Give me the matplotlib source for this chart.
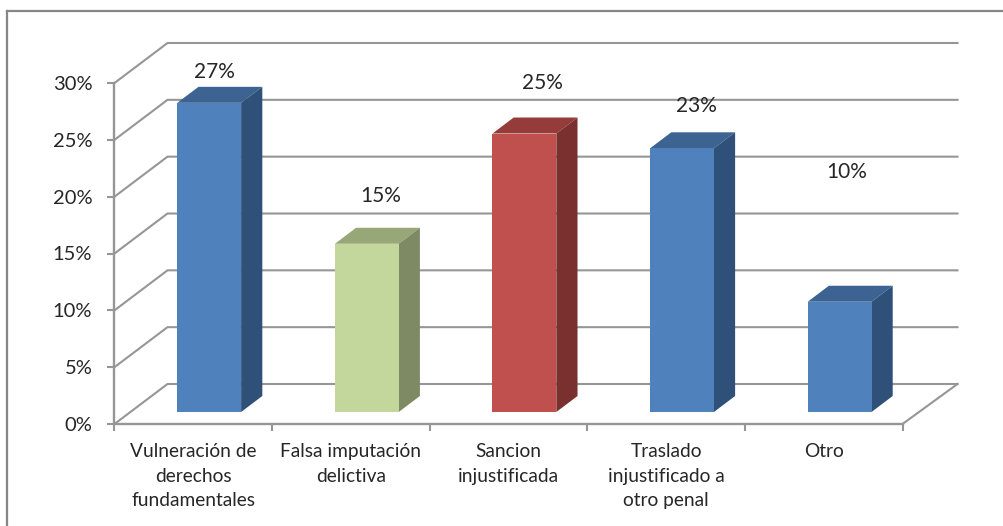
# -*- coding: utf-8 -*-
import numpy as np
import matplotlib
matplotlib.use("Agg")
import matplotlib.pyplot as plt
from matplotlib.lines import Line2D

plt.rcParams["font.family"] = ["Lato", "DejaVu Sans"]

# Datos
categorias = ["Vulneración de\nderechos\nfundamentales", "Falsa imputación\ndelictiva",
              "Sancion\ninjustificada", "Traslado\ninjustificado a\notro penal", "Otro"]
valores = [27.2, 14.8, 24.5, 23.2, 9.7]
etiquetas = ["27%", "15%", "25%", "23%", "10%"]
ticks_y = [0, 5, 10, 15, 20, 25, 30]

# Colores por barra: frente, tapa, lateral
frente = ["#4F81BD", "#C3D69B", "#C0504D", "#4F81BD", "#4F81BD"]
tapa = ["#3C6391", "#98A777", "#953B39", "#3C6391", "#3C6391"]
lateral = ["#2F5179", "#7E8A64", "#7A302E", "#2F5179", "#2F5179"]

# Posicion de las etiquetas (no van pegadas a la barra en el original)
etq_x = [0.634, 1.688, 2.716, 3.693, 4.645]
etq_y = [31.0, 20.05, 30.0, 28.0, 22.2]

GRIS = "#969696"
TEXTO = "#262626"
W, H = 1004, 526
PROF_X = 53 / (788 / 5)    # profundidad en unidades de categoria
PROF_Y = 40 / (341 / 30)   # profundidad en unidades de %
EXTRA_FONDO = 2 / (788 / 5)  # la pared del fondo llega algo mas a la derecha
ANCHO = 0.405

fig = plt.figure(figsize=(W / 100, H / 100), dpi=100)
ax = fig.add_axes([114.5 / W, (H - 424) / H, 788 / W, 341 / H])
n = len(categorias)
ax.set_xlim(0, n)
ax.set_ylim(0, 30)
ax.patch.set_alpha(0)

# Marco exterior (sigue hasta los bordes derecho e inferior)
fig.add_artist(Line2D([7 / W, 7 / W], [0, 1 - 11 / H], color="#868686", lw=1.6))
fig.add_artist(Line2D([7 / W, 1], [1 - 11 / H, 1 - 11 / H], color="#868686", lw=1.6))

# Paredes: diagonal izquierda + linea del fondo por cada tick
for t in ticks_y:
    ax.plot([0, PROF_X, n + PROF_X + EXTRA_FONDO], [t, t + PROF_Y, t + PROF_Y],
            color=GRIS, lw=1.5, clip_on=False, zorder=1)
ax.plot([n, n + PROF_X + EXTRA_FONDO], [0, PROF_Y], color=GRIS, lw=1.5, clip_on=False, zorder=1)

# Barras 3D
x0 = 0.3 * PROF_X
y0 = 0.3 * PROF_Y
dx = 0.4 * PROF_X
dy = 0.4 * PROF_Y
for i, v in enumerate(valores):
    izq = i + 0.5 - ANCHO / 2 + x0
    der = izq + ANCHO
    ax.bar(izq, v, width=ANCHO, bottom=y0, align="edge", color=frente[i], zorder=4, clip_on=False)
    ax.fill([izq, der, der + dx, izq + dx], [y0 + v, y0 + v, y0 + v + dy, y0 + v + dy],
            color=tapa[i], lw=0, zorder=3, clip_on=False)
    ax.fill([der, der + dx, der + dx, der], [y0, y0 + dy, y0 + v + dy, y0 + v],
            color=lateral[i], lw=0, zorder=3, clip_on=False)
    ax.text(etq_x[i], etq_y[i], etiquetas[i], ha="center", va="center",
            fontsize=15, color=TEXTO, zorder=5, clip_on=False)

# Ejes
for s in ["top", "right"]:
    ax.spines[s].set_visible(False)
for s in ["left", "bottom"]:
    ax.spines[s].set_color(GRIS)
    ax.spines[s].set_linewidth(1.7)
    ax.spines[s].set_zorder(2)

ax.set_yticks(ticks_y, [f"{t}%" for t in ticks_y])
ax.tick_params(axis="y", length=5, width=1.5, color=GRIS, pad=11, labelsize=14.5, labelcolor=TEXTO)
ax.set_xticks(np.arange(n) + 0.5, categorias, linespacing=1.52)
ax.set_xticks(np.arange(n + 1), minor=True)
ax.tick_params(axis="x", which="major", length=0, pad=14, labelsize=13.8, labelcolor=TEXTO)
ax.tick_params(axis="x", which="minor", length=5, width=1.5, color=GRIS)

fig.savefig("out.png", dpi=100)
